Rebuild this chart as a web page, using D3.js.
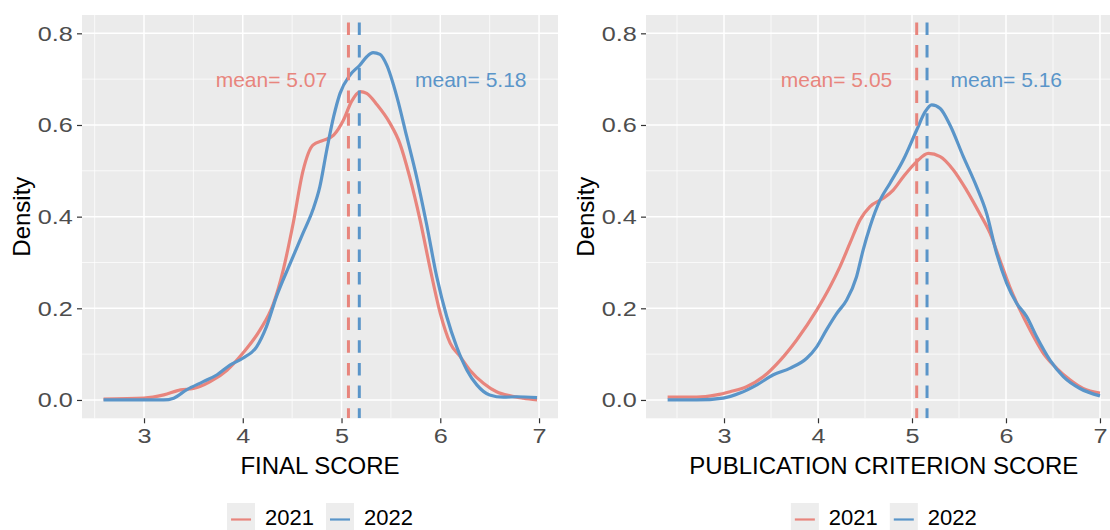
<!DOCTYPE html>
<html>
<head>
<meta charset="utf-8">
<script src="https://cdn.jsdelivr.net/npm/d3@7"></script>
<style>
  html, body { margin: 0; padding: 0; background: #fff; }
  svg { display: block; font-family: "Liberation Sans", Arial, sans-serif; }
</style>
</head>
<body>
<svg id="chart" width="1110" height="530"></svg>
<script>
// ---------------- DATA ----------------
const years = ["2021", "2022"];
const xTicks = [3, 4, 5, 6, 7];
const yTicks = [0.0, 0.2, 0.4, 0.6, 0.8];
const yTickLabels = ["0.0", "0.2", "0.4", "0.6", "0.8"];

// Panel 1: FINAL SCORE
const final2021 = [
  [2.59,0.002],[3.0,0.004],[3.2,0.011],[3.37,0.022],[3.5,0.025],[3.67,0.04],[3.84,0.065],
  [4.0,0.102],[4.175,0.153],[4.31,0.21],[4.41,0.284],[4.51,0.385],[4.61,0.50],[4.71,0.556],
  [4.82,0.567],[4.92,0.578],[5.02,0.611],[5.10,0.651],[5.19,0.673],[5.255,0.669],[5.36,0.644],
  [5.49,0.604],[5.59,0.56],[5.69,0.487],[5.795,0.393],[5.9,0.284],[6.0,0.189],[6.1,0.124],
  [6.2,0.095],[6.3,0.065],[6.44,0.036],[6.57,0.018],[6.71,0.009],[6.84,0.004],[6.98,0.0]
];
const final2022 = [
  [2.59,0.0],[2.9,0.0],[3.2,0.0],[3.3,0.004],[3.43,0.022],[3.6,0.04],[3.74,0.055],[3.87,0.076],
  [4.0,0.091],[4.14,0.116],[4.24,0.16],[4.34,0.225],[4.48,0.298],[4.61,0.364],[4.71,0.415],
  [4.78,0.465],[4.85,0.545],[4.92,0.618],[4.985,0.669],[5.086,0.709],[5.187,0.731],[5.255,0.749],
  [5.32,0.758],[5.39,0.754],[5.457,0.731],[5.56,0.662],[5.66,0.575],[5.76,0.487],[5.86,0.385],
  [5.964,0.269],[6.065,0.182],[6.166,0.116],[6.27,0.065],[6.37,0.033],[6.5,0.011],[6.64,0.006],
  [6.77,0.007],[6.98,0.005]
];
const finalMeans = [5.07, 5.18];

// Panel 2: PUBLICATION CRITERION SCORE
const pub2021 = [
  [2.4,0.006],[2.71,0.006],[2.92,0.011],[3.064,0.018],[3.24,0.029],[3.42,0.051],[3.6,0.087],
  [3.773,0.131],[3.986,0.196],[4.128,0.247],[4.234,0.291],[4.34,0.342],[4.447,0.393],[4.553,0.422],
  [4.695,0.44],[4.80,0.458],[4.908,0.487],[5.05,0.52],[5.174,0.538],[5.30,0.531],[5.44,0.502],
  [5.58,0.458],[5.72,0.407],[5.83,0.364],[5.936,0.305],[6.04,0.247],[6.15,0.196],[6.255,0.153],
  [6.397,0.102],[6.54,0.069],[6.68,0.044],[6.82,0.025],[7.0,0.015]
];
const pub2022 = [
  [2.4,0.0],[2.71,0.0],[2.99,0.004],[3.17,0.015],[3.35,0.033],[3.525,0.055],[3.70,0.069],
  [3.88,0.091],[3.986,0.116],[4.09,0.153],[4.2,0.189],[4.305,0.218],[4.41,0.269],[4.48,0.327],
  [4.553,0.378],[4.66,0.436],[4.766,0.473],[4.908,0.524],[5.05,0.589],[5.14,0.629],[5.21,0.644],
  [5.30,0.636],[5.404,0.60],[5.546,0.531],[5.688,0.465],[5.794,0.407],[5.90,0.32],[6.007,0.255],
  [6.113,0.211],[6.22,0.182],[6.326,0.138],[6.468,0.087],[6.61,0.051],[6.787,0.025],[7.0,0.009]
];
const pubMeans = [5.05, 5.16];

const panelTitles = ["FINAL SCORE", "PUBLICATION CRITERION SCORE"];
// mean label anchors: [x of red label end, x of blue label start], y level
const finalLabelX = [4.855, 5.744];
const pubLabelX = [4.79, 5.41];
const labelY = 0.7;

// ---------------- STYLE ----------------
const colors = ["#E8857D", "#5A95C9"];
const panelBg = "#EBEBEB";
const tickFont = 21, tickStretch = 1.2;

const svg = d3.select("#chart");

const panels = [
  { series: [final2021, final2022], means: finalMeans, labelX: finalLabelX, title: panelTitles[0],
    xDomain: [2.372, 7.192], xRange: [82, 558] },
  { series: [pub2021, pub2022], means: pubMeans, labelX: pubLabelX, title: panelTitles[1],
    xDomain: [2.17, 7.23], xRange: [646, 1121.6] }
];

const y = d3.scaleLinear().domain([-0.04, 0.84]).range([418.3, 15]);

panels.forEach((p, pi) => {
  const x = d3.scaleLinear().domain(p.xDomain).range(p.xRange);
  const g = svg.append("g");
  const [x0, x1] = p.xRange;
  const [yb, yt] = y.range();

  const clipId = "clip" + pi;
  svg.append("defs").append("clipPath").attr("id", clipId)
    .append("rect").attr("x", x0).attr("y", yt).attr("width", x1 - x0).attr("height", yb - yt);

  g.append("rect").attr("x", x0).attr("y", yt).attr("width", x1 - x0).attr("height", yb - yt)
    .attr("fill", panelBg);

  // minor grid
  const xMinor = d3.range(2.5, 7.5, 1).filter(v => v >= p.xDomain[0] && v <= p.xDomain[1]);
  const yMinor = [0.1, 0.3, 0.5, 0.7];
  g.selectAll(".xminor").data(xMinor).join("line")
    .attr("x1", d => x(d)).attr("x2", d => x(d)).attr("y1", yt).attr("y2", yb)
    .attr("stroke", "#fff").attr("stroke-width", 0.7);
  g.selectAll(".yminor").data(yMinor).join("line")
    .attr("x1", x0).attr("x2", x1).attr("y1", d => y(d)).attr("y2", d => y(d))
    .attr("stroke", "#fff").attr("stroke-width", 0.7);
  // major grid
  g.selectAll(".xmajor").data(xTicks).join("line")
    .attr("x1", d => x(d)).attr("x2", d => x(d)).attr("y1", yt).attr("y2", yb)
    .attr("stroke", "#fff").attr("stroke-width", 1.5);
  g.selectAll(".ymajor").data(yTicks).join("line")
    .attr("x1", x0).attr("x2", x1).attr("y1", d => y(d)).attr("y2", d => y(d))
    .attr("stroke", "#fff").attr("stroke-width", 1.5);

  // axes
  const xAxis = d3.axisBottom(x).tickValues(xTicks).tickFormat(d3.format("d")).tickSize(5).tickPadding(5);
  const gx = g.append("g").attr("transform", `translate(0,${yb})`).call(xAxis);
  gx.select(".domain").remove();
  gx.selectAll(".tick line").attr("stroke", "#333").attr("stroke-width", 1.2);
  gx.selectAll(".tick text").attr("fill", "#4D4D4D").attr("font-size", tickFont)
    .attr("font-family", '"Liberation Sans", Arial, sans-serif')
    .attr("transform", `scale(${tickStretch},1)`);

  const yAxis = d3.axisLeft(y).tickValues(yTicks).tickFormat((d, i) => yTickLabels[i]).tickSize(5).tickPadding(2.8);
  const gy = g.append("g").attr("transform", `translate(${x0},0)`).call(yAxis);
  gy.select(".domain").remove();
  gy.selectAll(".tick line").attr("stroke", "#333").attr("stroke-width", 1.2);
  gy.selectAll(".tick text").attr("fill", "#4D4D4D").attr("font-size", tickFont)
    .attr("font-family", '"Liberation Sans", Arial, sans-serif')
    .attr("transform", `scale(${tickStretch},1)`);

  // axis titles
  g.append("text").attr("x", (x0 + x1) / 2).attr("y", 474)
    .attr("text-anchor", "middle").attr("font-size", 24).attr("fill", "#000")
    .text(p.title);
  g.append("text").attr("transform", `translate(${x0 - 52},${(yt + yb) / 2}) rotate(-90)`)
    .attr("text-anchor", "middle").attr("font-size", 24).attr("fill", "#000")
    .text("Density");

  const plot = g.append("g").attr("clip-path", `url(#${clipId})`);

  // density curves
  const line = d3.line().x(d => x(d[0])).y(d => y(d[1])).curve(d3.curveMonotoneX);
  p.series.forEach((s, si) => {
    plot.append("path").datum(s).attr("d", line)
      .attr("fill", "none").attr("stroke", colors[si]).attr("stroke-width", 3.2)
      .attr("stroke-linejoin", "round");
  });

  // mean lines
  p.means.forEach((m, si) => {
    plot.append("line").attr("x1", x(m)).attr("x2", x(m)).attr("y1", yt).attr("y2", yb)
      .attr("stroke", colors[si]).attr("stroke-width", 3)
      .attr("stroke-dasharray", "12.5,10.2").attr("stroke-dashoffset", 15.3);
  });

  // mean labels
  p.means.forEach((m, si) => {
    g.append("text").attr("x", x(p.labelX[si])).attr("y", y(labelY))
      .attr("dy", "0.35em").attr("text-anchor", si === 0 ? "end" : "start")
      .attr("font-size", 21).attr("fill", colors[si])
      .text("mean= " + m.toFixed(2));
  });

  // legend
  const lg = g.append("g");
  const keyW = 28, keyH = 34, keyTop = 503;
  const items = [];
  years.forEach((yr, si) => {
    const it = lg.append("g");
    it.append("rect").attr("x", 0).attr("y", keyTop).attr("width", keyW).attr("height", keyH).attr("fill", "#EDEDED");
    it.append("line").attr("x1", 4).attr("x2", keyW - 4).attr("y1", 519.5).attr("y2", 519.5)
      .attr("stroke", colors[si]).attr("stroke-width", 2.2);
    const t = it.append("text").attr("x", keyW + 10).attr("y", 525).attr("font-size", 22).attr("fill", "#000").text(yr);
    const w = keyW + 10 + t.node().getComputedTextLength();
    items.push({ it, w });
  });
  const gap = 12;
  const total = items.reduce((a, b) => a + b.w, 0) + gap * (items.length - 1);
  let start = (x0 + x1) / 2 - total / 2;
  items.forEach(d => { d.it.attr("transform", `translate(${start},0)`); start += d.w + gap; });
});
</script>
</body>
</html>
